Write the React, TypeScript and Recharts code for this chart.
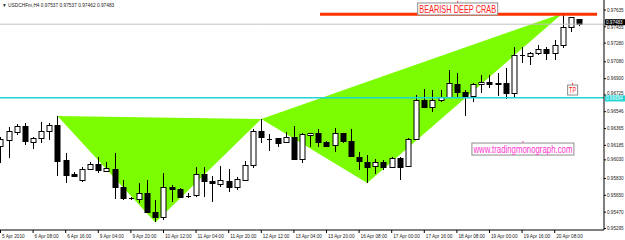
import React from "react";
import {
  ComposedChart,
  Bar,
  Area,
  XAxis,
  YAxis,
  ReferenceLine,
  ReferenceDot,
} from "recharts";

// USDCHFm H4 candles (bar 0 = 5 Apr 2010)
const opens = [
  0.96178, 0.96243, 0.96328, 0.96393, 0.96221, 0.96264, 0.96339, 0.96403, 0.96029, 0.95879,
  0.95814, 0.95932, 0.95986, 0.95911, 0.95932, 0.95739, 0.95622, 0.95611, 0.95675, 0.95472,
  0.95418, 0.95739, 0.95718, 0.95643, 0.95654, 0.95879, 0.95804, 0.95772, 0.95804, 0.95739,
  0.95814, 0.95975, 0.96339, 0.96253, 0.96264, 0.96221, 0.96275, 0.96039, 0.96296, 0.96318,
  0.96221, 0.96189, 0.96318, 0.96232, 0.96061, 0.96007, 0.95964, 0.96007, 0.95954, 0.9605,
  0.95964, 0.96253, 0.96671, 0.96596, 0.96671, 0.96703, 0.96842, 0.96757, 0.96714, 0.96842,
  0.96864, 0.96853, 0.96853, 0.96746, 0.97153, 0.97142, 0.97174, 0.97217, 0.97174, 0.9726,
  0.97453, 0.97537,
];
const highs = [
  0.96275, 0.96382, 0.96414, 0.96425, 0.96275, 0.96436, 0.96425, 0.965, 0.96104, 0.959,
  0.95954, 0.96007, 0.96061, 0.96007, 0.96104, 0.95814, 0.95632, 0.95782, 0.95814, 0.956,
  0.95889, 0.95761, 0.95729, 0.95675, 0.95954, 0.95954, 0.95857, 0.95964, 0.95932, 0.95847,
  0.96018, 0.96361, 0.96468, 0.96307, 0.96264, 0.96328, 0.96393, 0.96318, 0.96318, 0.96361,
  0.96232, 0.96371, 0.96318, 0.96361, 0.96114, 0.96082, 0.96039, 0.96029, 0.96061, 0.96061,
  0.96264, 0.96725, 0.96789, 0.96778, 0.96778, 0.96992, 0.9696, 0.96778, 0.96853, 0.96939,
  0.96939, 0.9696, 0.97014, 0.97239, 0.97239, 0.97185, 0.9726, 0.97239, 0.97314, 0.97603,
  0.9756, 0.97537,
];
const lows = [
  0.95996, 0.9605, 0.96296, 0.96189, 0.96146, 0.96211, 0.96243, 0.95857, 0.95782, 0.95847,
  0.95793, 0.95921, 0.95889, 0.959, 0.95611, 0.956, 0.956, 0.95568, 0.95461, 0.95365,
  0.95386, 0.95579, 0.95622, 0.95622, 0.95632, 0.95632, 0.95579, 0.95739, 0.95686, 0.95707,
  0.95804, 0.95943, 0.96211, 0.96125, 0.96168, 0.96211, 0.96029, 0.95996, 0.96168, 0.96168,
  0.96168, 0.96114, 0.96211, 0.96061, 0.95921, 0.95782, 0.95879, 0.95921, 0.95943, 0.95814,
  0.95954, 0.96243, 0.96585, 0.96543, 0.9665, 0.96693, 0.96703, 0.965, 0.9665, 0.96746,
  0.968, 0.96714, 0.96682, 0.96693, 0.97067, 0.97046, 0.97153, 0.97099, 0.97099, 0.97228,
  0.97399, 0.97462,
];
const closes = [
  0.96253, 0.96339, 0.96393, 0.96232, 0.96264, 0.96339, 0.96403, 0.96018, 0.95868, 0.95857,
  0.95932, 0.95986, 0.95921, 0.95943, 0.95739, 0.95622, 0.95622, 0.95675, 0.95472, 0.95418,
  0.95739, 0.95718, 0.95632, 0.95643, 0.95879, 0.95804, 0.95782, 0.95814, 0.95739, 0.95825,
  0.95975, 0.96339, 0.96275, 0.96253, 0.96211, 0.96275, 0.96039, 0.96307, 0.96318, 0.96221,
  0.96178, 0.96318, 0.96232, 0.96071, 0.96018, 0.95954, 0.96007, 0.95954, 0.9605, 0.95954,
  0.96253, 0.96671, 0.96596, 0.96671, 0.96703, 0.96853, 0.96757, 0.96714, 0.96842, 0.96864,
  0.96842, 0.96842, 0.96746, 0.97153, 0.97153, 0.97174, 0.97217, 0.97174, 0.9726, 0.97453,
  0.9756, 0.97483,
];

const xTickBars = [0, 4, 8, 12, 16, 20, 24, 28, 32, 36, 40, 44, 48, 52, 56, 60, 64, 68];
const xTickLabels = [
  "5 Apr 2010", "6 Apr 08:00", "6 Apr 16:00", "9 Apr 04:00", "9 Apr 20:00", "10 Apr 12:00",
  "11 Apr 04:00", "11 Apr 20:00", "12 Apr 12:00", "13 Apr 04:00", "13 Apr 20:00", "16 Apr 08:00",
  "17 Apr 00:00", "17 Apr 16:00", "18 Apr 08:00", "19 Apr 00:00", "19 Apr 16:00", "20 Apr 08:00",
];
const yTicks = [
  0.97635, 0.97455, 0.9728, 0.9708, 0.969, 0.96725, 0.96546, 0.96365, 0.96185, 0.9603,
  0.9583, 0.9565, 0.9547, 0.95295,
];

// harmonic pattern X, A, B, C, D
const patternBars = [7, 19, 32, 45, 69];
const patternPrices = [0.965, 0.9536, 0.96468, 0.95782, 0.976];

const targetLine = 0.9759; // red PRZ line
const tpLine = 0.96694; // cyan
const bidLine = 0.97483; // gray

const header = "▼ USDCHFm,H4 0.97537 0.97537 0.97462 0.97483";

const FONT = "'Liberation Sans', Arial, sans-serif";
const NARROW = "'Liberation Sans Narrow', 'Liberation Sans', Arial, sans-serif";
const GREEN = "#7CFC00";
const TICK_FS = 4.6;

const candles = opens.map((o, i) => ({
  i,
  o,
  h: highs[i],
  l: lows[i],
  c: closes[i],
  range: [lows[i], highs[i]],
}));

// a filled triangle p0 -> p1 -> p2, drawn as a range area
function triangle(a: number, b: number, c: number) {
  const [x0, x1, x2] = [patternBars[a], patternBars[b], patternBars[c]];
  const [y0, y1, y2] = [patternPrices[a], patternPrices[b], patternPrices[c]];
  const edge = y0 + ((y2 - y0) * (x1 - x0)) / (x2 - x0);
  return [
    { i: x0, band: [y0, y0] },
    { i: x1, band: [Math.min(y1, edge), Math.max(y1, edge)] },
    { i: x2, band: [y2, y2] },
  ];
}
const tri1 = triangle(0, 1, 2);
const tri2 = triangle(2, 3, 4);

const Candle = (props: any) => {
  const { x, y, width, height, payload } = props;
  if (!payload) return null;
  const { o, h, l, c } = payload;
  const cx = Math.round(x + width / 2) + 0.5;
  const top = Math.min(y, y + height);
  const hh = Math.abs(height);
  const py = (p: number) => top + ((h - p) / (h - l)) * hh;
  const bt = Math.round(py(Math.max(o, c))) + 0.5;
  const bb = Math.round(py(Math.min(o, c))) + 0.5;
  const up = c >= o;
  return (
    <g>
      <line x1={cx} x2={cx} y1={top} y2={top + hh} stroke="#000" strokeWidth={1} />
      {bb - bt < 1 ? (
        <line x1={cx - 2.5} x2={cx + 2.5} y1={bt} y2={bt} stroke="#000" />
      ) : (
        <rect
          x={cx - 2.5}
          y={bt}
          width={5}
          height={bb - bt}
          fill={up ? "#fff" : "#000"}
          stroke="#000"
          strokeWidth={1}
        />
      )}
    </g>
  );
};

const XTick = (props: any) => {
  const { x, y, payload } = props;
  const k = xTickBars.indexOf(payload.value);
  return (
    <g>
      <line x1={x} x2={x} y1={y} y2={y + 3} stroke="#000" />
      <text x={x + 1.5} y={y + 7.5} fontSize={4.7} fontFamily={FONT} fill="#222">
        {xTickLabels[k]}
      </text>
    </g>
  );
};

// labels that sit right next to a price tag are nudged clear of it
const YTick = (props: any) => {
  const { x, y, payload } = props;
  const v = payload.value;
  let nudge = 0;
  if (v < bidLine && bidLine - v < 0.0005) nudge = 1;
  if (v > tpLine && v - tpLine < 0.0005) nudge = -2;
  return (
    <g>
      <line x1={x} x2={x + 2} y1={y} y2={y} stroke="#000" />
      <text x={x + 3} y={y + nudge + 1.6} fontSize={TICK_FS} fontFamily={FONT} fill="#222">
        {v.toFixed(5)}
      </text>
    </g>
  );
};

const priceTag = (value: number, bg: string, shift: number) => (p: any) => {
  const vb = p.viewBox;
  const x = vb.x + vb.width + 1;
  const cy = vb.y + shift;
  return (
    <g>
      <rect x={x} y={cy - 3} width={20} height={6} fill={bg} />
      <text x={x + 1} y={cy + 1.6} fontSize={TICK_FS} fontFamily={FONT} fill="#fff">
        {value.toFixed(5)}
      </text>
    </g>
  );
};

const textBox = (text: string, w: number, h: number, color: string, size: number) => (p: any) => {
  const { cx, cy } = p;
  return (
    <g>
      <line x1={cx} x2={cx} y1={cy - h / 2 - 2} y2={cy - h / 2} stroke={color} />
      <rect x={cx - w / 2} y={cy - h / 2} width={w} height={h} fill="#fff" stroke="#8c8c8c" strokeWidth={1} />
      <text
        x={cx}
        y={cy + size * 0.36}
        textAnchor="middle"
        fontSize={size}
        fontFamily={NARROW}
        fill={color}
        textLength={w - 3}
        lengthAdjust="spacingAndGlyphs"
      >
        {text}
      </text>
    </g>
  );
};

export default function App() {
  return (
    <div style={{ position: "absolute", left: 0, top: 0, width: 625, height: 240, background: "#fff" }}>
      <ComposedChart
        width={625}
        height={240}
        data={candles}
        margin={{ top: 0, right: 0, bottom: 0, left: 0 }}
      >
        <XAxis
          dataKey="i"
          type="number"
          domain={[-0.06, 74.05]}
          allowDataOverflow
          ticks={xTickBars}
          tick={<XTick />}
          tickLine={false}
          tickSize={0}
          tickMargin={0}
          height={10}
          axisLine={{ stroke: "#000" }}
          interval={0}
        />
        <YAxis
          orientation="right"
          type="number"
          domain={[0.95279, 0.97742]}
          allowDataOverflow
          ticks={yTicks}
          tick={<YTick />}
          tickLine={false}
          tickSize={0}
          tickMargin={0}
          width={21}
          axisLine={{ stroke: "#000" }}
          interval={0}
        />
        <Area
          data={tri1}
          dataKey="band"
          type="linear"
          stroke="none"
          fill={GREEN}
          fillOpacity={1}
          dot={false}
          activeDot={false}
          isAnimationActive={false}
        />
        <Area
          data={tri2}
          dataKey="band"
          type="linear"
          stroke="none"
          fill={GREEN}
          fillOpacity={1}
          dot={false}
          activeDot={false}
          isAnimationActive={false}
        />
        <ReferenceLine y={bidLine} stroke="#c0c0c0" strokeWidth={1} label={priceTag(bidLine, "#000", -2)} />
        <ReferenceLine y={tpLine} stroke="#1ed6d6" strokeWidth={1.5} label={priceTag(tpLine, "#1ed6d6", 0.6)} />
        <Bar dataKey="range" barSize={6} shape={<Candle />} isAnimationActive={false} />
        <ReferenceLine
          segment={[
            { x: 39.2, y: targetLine },
            { x: 73.2, y: targetLine },
          ]}
          stroke="#ff3300"
          strokeWidth={3}
        />
        <ReferenceDot
          x={56.1}
          y={0.97646}
          r={1}
          ifOverflow="visible"
          shape={textBox("BEARISH DEEP CRAB", 80, 12, "#ff2020", 11)}
        />
        <ReferenceDot
          x={70.2}
          y={0.96778}
          r={1}
          ifOverflow="visible"
          shape={textBox("TP", 10, 10, "#ff2020", 9.5)}
        />
        <ReferenceDot
          x={64.1}
          y={0.96146}
          r={1}
          ifOverflow="visible"
          shape={textBox("www.tradingmonograph.com", 102, 12, "#ff33cc", 10)}
        />
      </ComposedChart>
      <svg width={200} height={10} style={{ position: "absolute", left: 0, top: 0 }}>
        <text x={2} y={6.5} fontSize={4.8} fontFamily={FONT} fill="#222">
          {header}
        </text>
      </svg>
    </div>
  );
}
